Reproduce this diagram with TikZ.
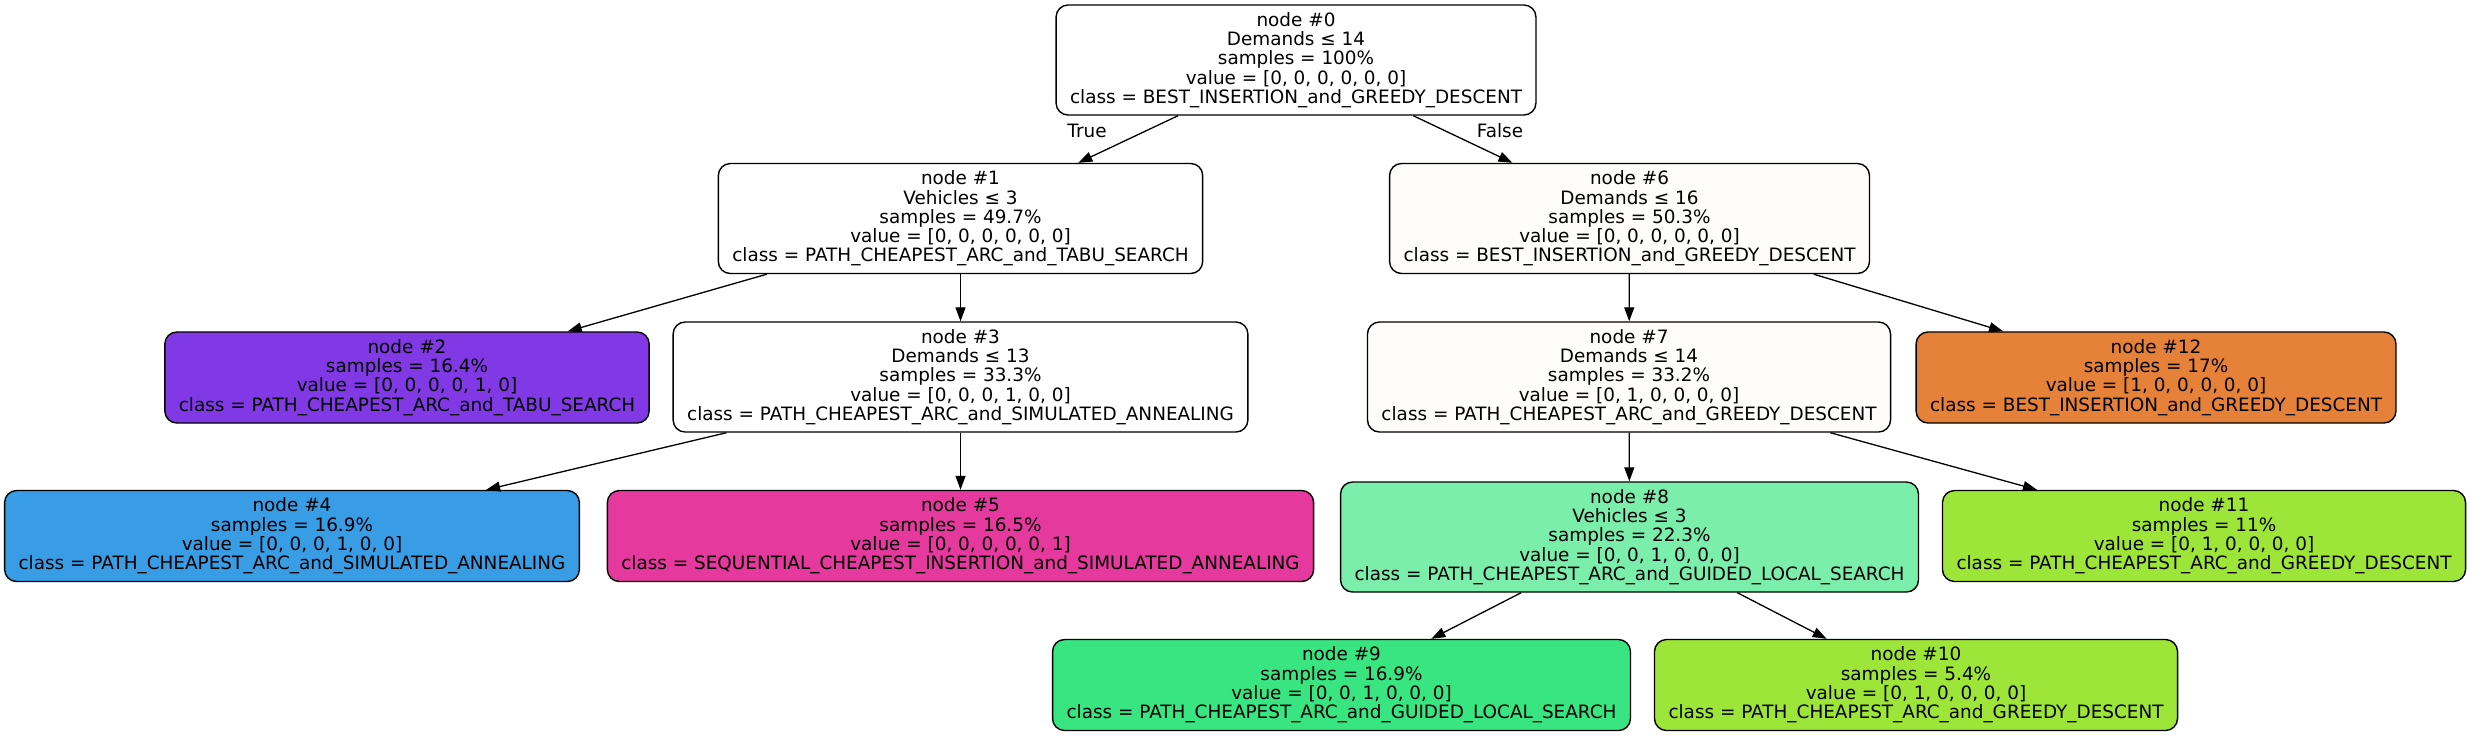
\documentclass[tikz,border=0pt]{standalone}
\usepackage{fontspec}
\setmainfont{DejaVu Sans}
\usetikzlibrary{arrows.meta}
\definecolor{cwhite}{HTML}{FFFFFF}
\definecolor{cpale}{HTML}{FEFDFB}
\definecolor{cpurple}{HTML}{8139E5}
\definecolor{cblue}{HTML}{399DE5}
\definecolor{cpink}{HTML}{E5399D}
\definecolor{corange}{HTML}{E58139}
\definecolor{cgreen}{HTML}{39E581}
\definecolor{clgreen}{HTML}{7CEEAB}
\definecolor{clime}{HTML}{9DE539}
\tikzset{
  tbox/.style={draw=black, line width=0.7pt, rounded corners=6pt, align=center,
    inner xsep=7pt, inner ysep=1pt, font=\fontsize{9.2}{9.65}\selectfont},
  inner/.style={tbox, minimum height=55pt},
  leaf/.style={tbox, minimum height=45.5pt},
  edge/.style={line width=0.65pt, -{Triangle[length=7pt,width=5pt]}},
  elabel/.style={font=\fontsize{9.2}{9.65}\selectfont, inner sep=0pt}
}
\begin{document}
\begin{tikzpicture}[x=0.5pt, y=-0.5pt]
\useasboundingbox (0,0) rectangle (2471,736);
\node[inner, fill=cwhite] (n0) at (1296,60) {node \#0\\Demands ≤ 14\\samples = 100\%\\value = [0, 0, 0, 0, 0, 0]\\class = BEST\_INSERTION\_and\_GREEDY\_DESCENT};
\node[inner, fill=cwhite] (n1) at (960.5,218.5) {node \#1\\Vehicles ≤ 3\\samples = 49.7\%\\value = [0, 0, 0, 0, 0, 0]\\class = PATH\_CHEAPEST\_ARC\_and\_TABU\_SEARCH};
\node[inner, fill=cpale] (n6) at (1629.5,218.5) {node \#6\\Demands ≤ 16\\samples = 50.3\%\\value = [0, 0, 0, 0, 0, 0]\\class = BEST\_INSERTION\_and\_GREEDY\_DESCENT};
\node[leaf, fill=cpurple] (n2) at (407,377.5) {node \#2\\samples = 16.4\%\\value = [0, 0, 0, 0, 1, 0]\\class = PATH\_CHEAPEST\_ARC\_and\_TABU\_SEARCH};
\node[inner, fill=cwhite] (n3) at (960.5,377) {node \#3\\Demands ≤ 13\\samples = 33.3\%\\value = [0, 0, 0, 1, 0, 0]\\class = PATH\_CHEAPEST\_ARC\_and\_SIMULATED\_ANNEALING};
\node[inner, fill=cpale] (n7) at (1629,377) {node \#7\\Demands ≤ 14\\samples = 33.2\%\\value = [0, 1, 0, 0, 0, 0]\\class = PATH\_CHEAPEST\_ARC\_and\_GREEDY\_DESCENT};
\node[leaf, fill=corange] (n12) at (2156,377.5) {node \#12\\samples = 17\%\\value = [1, 0, 0, 0, 0, 0]\\class = BEST\_INSERTION\_and\_GREEDY\_DESCENT};
\node[leaf, fill=cblue] (n4) at (292,536) {node \#4\\samples = 16.9\%\\value = [0, 0, 0, 1, 0, 0]\\class = PATH\_CHEAPEST\_ARC\_and\_SIMULATED\_ANNEALING};
\node[leaf, fill=cpink] (n5) at (960.5,536) {node \#5\\samples = 16.5\%\\value = [0, 0, 0, 0, 0, 1]\\class = SEQUENTIAL\_CHEAPEST\_INSERTION\_and\_SIMULATED\_ANNEALING};
\node[inner, fill=clgreen] (n8) at (1629.5,537) {node \#8\\Vehicles ≤ 3\\samples = 22.3\%\\value = [0, 0, 1, 0, 0, 0]\\class = PATH\_CHEAPEST\_ARC\_and\_GUIDED\_LOCAL\_SEARCH};
\node[leaf, fill=clime] (n11) at (2204,536) {node \#11\\samples = 11\%\\value = [0, 1, 0, 0, 0, 0]\\class = PATH\_CHEAPEST\_ARC\_and\_GREEDY\_DESCENT};
\node[leaf, fill=cgreen] (n9) at (1341.5,685) {node \#9\\samples = 16.9\%\\value = [0, 0, 1, 0, 0, 0]\\class = PATH\_CHEAPEST\_ARC\_and\_GUIDED\_LOCAL\_SEARCH};
\node[leaf, fill=clime] (n10) at (1916,685) {node \#10\\samples = 5.4\%\\value = [0, 1, 0, 0, 0, 0]\\class = PATH\_CHEAPEST\_ARC\_and\_GREEDY\_DESCENT};
\draw[edge] (n0) -- (n1);
\draw[edge] (n0) -- (n6);
\draw[edge] (n1) -- (n2);
\draw[edge] (n1) -- (n3);
\draw[edge] (n3) -- (n4);
\draw[edge] (n3) -- (n5);
\draw[edge] (n6) -- (n7);
\draw[edge] (n6) -- (n12);
\draw[edge] (n7) -- (n8);
\draw[edge] (n7) -- (n11);
\draw[edge] (n8) -- (n9);
\draw[edge] (n8) -- (n10);
\node[elabel] (lT) at (1087,131) {True};
\node[elabel] (lF) at (1500,131) {False};
\end{tikzpicture}
\end{document}
